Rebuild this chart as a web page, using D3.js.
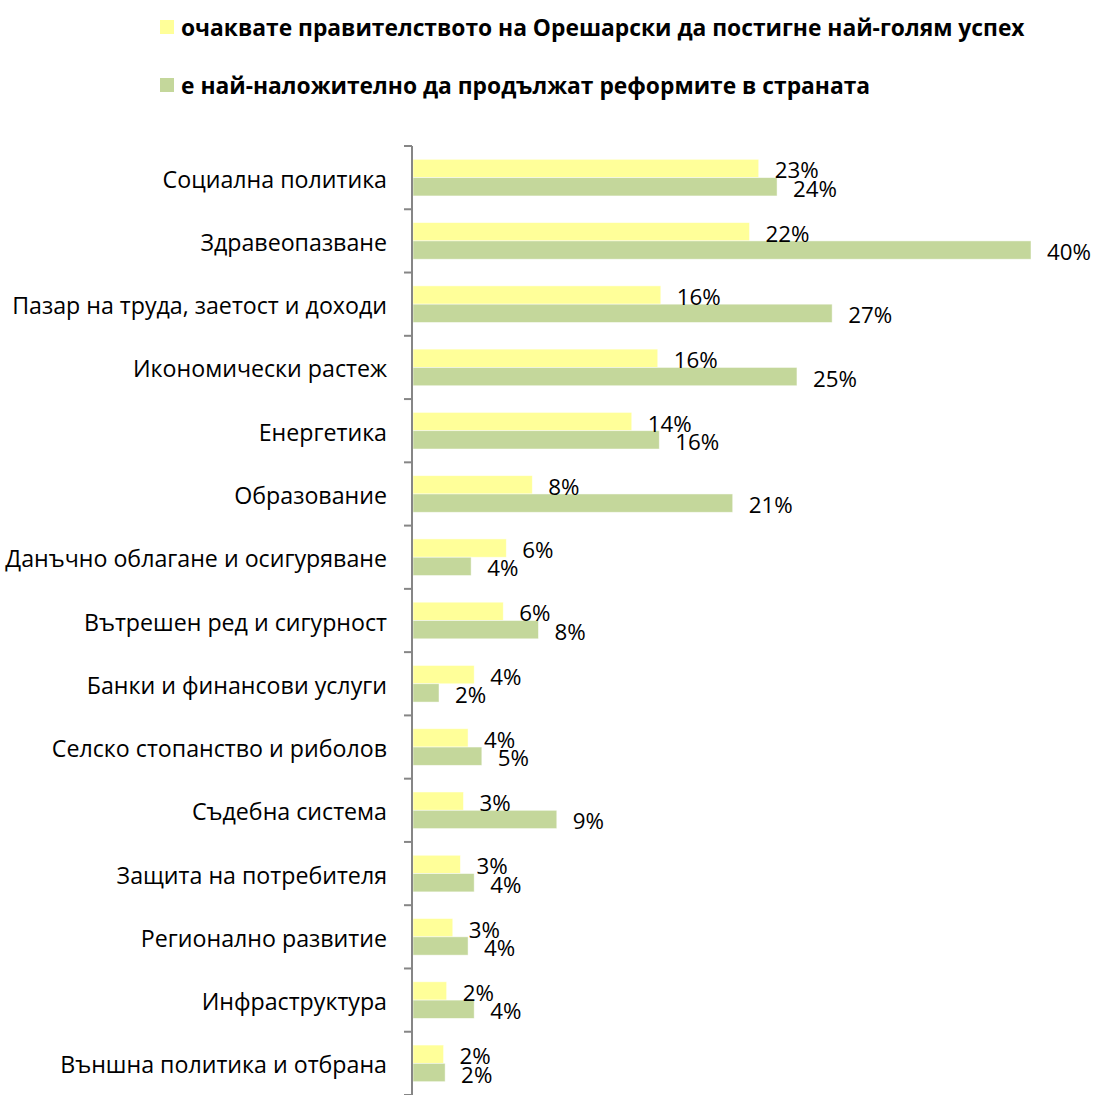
<!DOCTYPE html>
<html>
<head>
<meta charset="utf-8">
<script src="https://cdn.jsdelivr.net/npm/d3@7"></script>
<style>
  html, body { margin: 0; padding: 0; background: #fff; }
  svg { display: block; }
  text { font-family: "Open Sans", Lato, sans-serif; fill: #000; }
</style>
</head>
<body>
<svg id="chart" width="1094" height="1095"></svg>
<script>
const categories = [
  "Социална политика",
  "Здравеопазване",
  "Пазар на труда, заетост и доходи",
  "Икономически растеж",
  "Енергетика",
  "Образование",
  "Данъчно облагане и осигуряване",
  "Вътрешен ред и сигурност",
  "Банки и финансови услуги",
  "Селско стопанство и риболов",
  "Съдебна система",
  "Защита на потребителя",
  "Регионално развитие",
  "Инфраструктура",
  "Външна политика и отбрана"
];
const seriesNames = [
  "очаквате правителството на Орешарски да постигне най-голям успех",
  "е най-наложително да продължат реформите в страната"
];
const seriesSuccess = [22.6, 22.0, 16.2, 16.0, 14.3, 7.8, 6.1, 5.9, 4.0, 3.6, 3.3, 3.1, 2.6, 2.2, 2.0];
const seriesReform  = [23.8, 40.4, 27.4, 25.1, 16.1, 20.9, 3.8, 8.2, 1.7, 4.5, 9.4, 4.0, 3.6, 4.0, 2.1];
const labelsSuccess = ["23%","22%","16%","16%","14%","8%","6%","6%","4%","4%","3%","3%","3%","2%","2%"];
const labelsReform  = ["24%","40%","27%","25%","16%","21%","4%","8%","2%","5%","9%","4%","4%","4%","2%"];
const colors = ["#FFFF99", "#C4D79B"];

const svg = d3.select("#chart");

// fit a font size so that a sample string reaches a target width
function fitSize(sample, target, weight) {
  const t = svg.append("text").style("font-size", "20px")
    .style("font-weight", weight || "normal").text(sample);
  const w = t.node().getComputedTextLength();
  t.remove();
  return 20 * target / w;
}
const catSize = fitSize("Пазар на труда, заетост и доходи", 375);
const valSize = fitSize("23%", 44);
const legSize = fitSize(seriesNames[0], 844, "bold");

const x = d3.scaleLinear().domain([0, 40.4]).range([413, 1031]);
const y0 = d3.scaleBand().domain(categories).range([146, 1095]).padding(0);
const y1 = d3.scaleBand().domain([0, 1]).range([0, y0.bandwidth()]).paddingInner(0).paddingOuter(0.728);

const data = categories.map((c, i) => ({
  cat: c,
  vals: [
    {s: 0, v: seriesSuccess[i], label: labelsSuccess[i]},
    {s: 1, v: seriesReform[i], label: labelsReform[i]}
  ]
}));

const groups = svg.append("g").selectAll("g").data(data).join("g")
  .attr("transform", d => `translate(0,${y0(d.cat)})`);

groups.selectAll("rect").data(d => d.vals).join("rect")
  .attr("x", x(0))
  .attr("y", d => y1(d.s))
  .attr("width", d => x(d.v) - x(0))
  .attr("height", y1.bandwidth())
  .attr("fill", d => colors[d.s])
  .attr("stroke", "#ffffff")
  .attr("stroke-opacity", 0.6)
  .attr("stroke-width", 0.8);

groups.selectAll("text.val").data(d => d.vals).join("text")
  .attr("class", "val")
  .attr("x", d => x(d.v) + 16)
  .attr("y", d => y1(d.s) + y1.bandwidth() / 2 + 1.5)
  .attr("dominant-baseline", "central")
  .style("font-size", valSize + "px")
  .text(d => d.label);

// category labels
svg.append("g").selectAll("text").data(categories).join("text")
  .attr("x", 387)
  .attr("y", d => y0(d) + y0.bandwidth() / 2 + 1)
  .attr("text-anchor", "end")
  .attr("dominant-baseline", "central")
  .style("font-size", catSize + "px")
  .text(d => d);

// axis
const axisG = svg.append("g").attr("stroke", "#868686").attr("stroke-width", 2);
axisG.append("line")
  .attr("x1", 412).attr("x2", 412)
  .attr("y1", y0.range()[0]).attr("y2", y0.range()[1]);
const boundaries = categories.map(c => y0(c)).concat([y0.range()[1]]);
axisG.selectAll("line.tick").data(boundaries).join("line")
  .attr("class", "tick")
  .attr("x1", 404).attr("x2", 412)
  .attr("y1", d => d).attr("y2", d => d);

// legend
const legend = svg.append("g");
const legendY = [27, 85];
seriesNames.forEach((name, i) => {
  legend.append("rect")
    .attr("x", 160).attr("y", legendY[i] - 7)
    .attr("width", 14).attr("height", 14)
    .attr("fill", colors[i]);
  legend.append("text")
    .attr("x", 181).attr("y", legendY[i])
    .attr("dominant-baseline", "central")
    .style("font-size", legSize + "px")
    .style("font-weight", "bold")
    .text(name);
});
</script>
</body>
</html>
